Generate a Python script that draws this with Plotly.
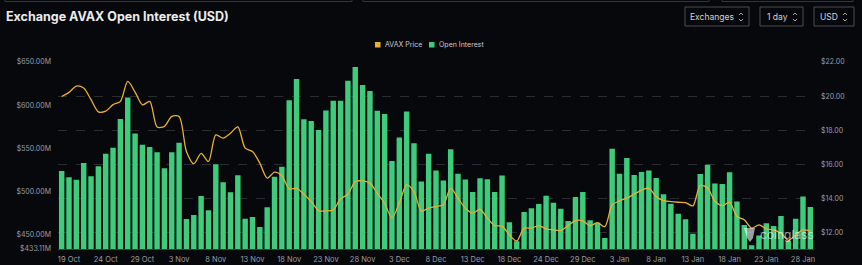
import plotly.graph_objects as go

# ---------------- data ----------------
dates = ([f"{d} Oct" for d in range(18, 32)] + [f"{d} Nov" for d in range(1, 31)] +
         [f"{d} Dec" for d in range(1, 32) if d != 21] + [f"{d} Jan" for d in range(1, 30)])

open_interest_m = [
    523.7, 516.4, 513.3, 533.0, 517.6, 529.2, 543.5, 550.4, 583.8, 608.9,
    567.1, 553.9, 551.3, 545.4, 526.9, 545.4, 556.3, 468.0, 472.6, 494.7,
    478.1, 531.5, 510.6, 499.0, 518.7, 468.3, 470.3, 458.7, 481.6, 516.8,
    528.4, 605.6, 630.3, 583.5, 581.6, 571.0, 593.8, 605.0, 605.0, 628.3,
    644.2, 623.3, 616.4, 593.4, 589.6, 535.1, 562.4, 592.6, 555.7, 511.3,
    543.7, 524.1, 512.5, 548.9, 520.5, 513.6, 499.3, 515.2, 514.1, 499.1,
    518.5, 464.2, 442.2, 475.9, 480.5, 485.4, 495.0, 486.8, 479.9, 465.6,
    493.5, 499.1, 466.6, 463.7, 445.9, 549.3, 520.5, 538.8, 518.8, 522.3,
    524.3, 515.4, 496.7, 485.6, 474.1, 467.7, 450.9, 520.0, 530.7, 509.2,
    508.4, 522.0, 488.3, 461.0, 437.4, 448.8, 463.1, 459.8, 471.4, 442.8,
    468.2, 494.1, 481.9,
]

avax_price = [
    19.98, 20.22, 20.59, 20.47, 19.79, 19.08, 19.12, 19.50, 19.69, 20.86,
    20.24, 19.49, 19.69, 18.19, 18.23, 18.81, 18.81, 16.75, 16.03, 16.64,
    16.17, 17.73, 17.54, 17.83, 18.20, 16.95, 16.75, 16.07, 15.19, 15.54,
    15.33, 14.56, 14.61, 14.25, 13.82, 13.29, 13.27, 13.33, 13.98, 14.25,
    14.99, 15.03, 14.90, 14.31, 13.72, 12.85, 13.73, 14.80, 14.41, 13.27,
    13.43, 13.53, 13.63, 14.61, 14.02, 13.43, 13.14, 13.37, 12.85, 12.41,
    12.38, 11.87, 11.51, 12.26, 12.26, 12.41, 12.22, 12.16, 12.12, 12.41,
    12.70, 12.69, 12.41, 12.59, 12.35, 13.62, 13.86, 14.02, 14.25, 14.49,
    14.61, 14.11, 13.88, 13.82, 13.78, 13.76, 13.57, 14.76, 14.61, 13.84,
    13.58, 13.78, 12.94, 12.75, 12.26, 12.45, 12.22, 12.16, 11.96, 11.55,
    11.87, 12.16, 12.10,
]

x_tick_labels = ["19 Oct", "24 Oct", "29 Oct", "3 Nov", "8 Nov", "13 Nov", "18 Nov",
                 "23 Nov", "28 Nov", "3 Dec", "8 Dec", "13 Dec", "18 Dec", "24 Dec",
                 "29 Dec", "3 Jan", "8 Jan", "13 Jan", "18 Jan", "23 Jan", "28 Jan"]
oi_tick_vals = [433.11, 450, 500, 550, 600, 650]
oi_tick_text = ["$433.11M", "$450.00M", "$500.00M", "$550.00M", "$600.00M", "$650.00M"]
price_tick_vals = [12, 14, 16, 18, 20, 22]
price_tick_text = ["$12.00", "$14.00", "$16.00", "$18.00", "$20.00", "$22.00"]

# ---------------- style ----------------
BG = "#07080c"
GREEN = "#3ecb7c"
AMBER = "#e9b033"
TICK = "#9a9da4"
FONT = "Inter"

fig = go.Figure()
fig.add_trace(go.Bar(x=dates, y=open_interest_m, marker=dict(color=GREEN, line=dict(width=0)),
                     width=0.74, name="Open Interest", yaxis="y", showlegend=False))
fig.add_trace(go.Scatter(x=dates, y=avax_price, mode="lines", name="AVAX Price",
                         line=dict(color=AMBER, width=1.3, shape="spline", smoothing=0.8),
                         yaxis="y2", showlegend=False))

fig.update_layout(
    width=862, height=265,
    margin=dict(l=58, r=48, t=62, b=16, autoexpand=False),
    paper_bgcolor=BG, plot_bgcolor=BG,
    font=dict(family=FONT, color=TICK, size=7),
    xaxis=dict(type="category", range=[-0.5, len(dates) - 0.5], tickmode="array",
               tickvals=x_tick_labels, ticktext=x_tick_labels, showgrid=False,
               showline=True, linecolor="#3a3c42", linewidth=1, ticks="",
               tickfont=dict(size=7.5, color=TICK, family=FONT), ticklabelstandoff=3,
               zeroline=False, automargin=False),
    yaxis=dict(range=[433.11, 650], tickmode="array", tickvals=oi_tick_vals,
               ticktext=oi_tick_text, showgrid=False, zeroline=False, ticks="",
               tickfont=dict(size=7, color=TICK, family=FONT), ticklabelstandoff=6,
               showline=False, automargin=False),
    yaxis2=dict(range=[11.04, 22], overlaying="y", side="right", tickmode="array",
                tickvals=price_tick_vals, ticktext=price_tick_text, showgrid=True,
                gridcolor="#2a2c32", griddash="dash", gridwidth=1, zeroline=False,
                ticks="", tickfont=dict(size=7, color=TICK, family=FONT),
                ticklabelstandoff=6, showline=False, automargin=False),
)

# helpers for pixel placement in paper coords
PL, PT, PW, PH = 58, 62, 756, 187


def px(x):
    return (x - PL) / PW


def py(y):
    return 1 - (y - PT) / PH


# title
fig.add_annotation(text="<b>Exchange AVAX Open Interest (USD)</b>", xref="paper", yref="paper",
                   x=px(4), y=py(16.5), xanchor="left", yanchor="middle",
                   showarrow=False, font=dict(family=FONT, size=12.5, color="#ececec"))

# faint cut-off boxes at very top
for x0, x1 in [(5, 352), (363, 709), (722, 853)]:
    fig.add_shape(type="rect", xref="paper", yref="paper", x0=px(x0), x1=px(x1),
                  y0=py(1.5), y1=py(-10), line=dict(color="#33353b", width=1),
                  fillcolor="rgba(0,0,0,0)", layer="above")

# control buttons
for label, x0, x1, tx, cx in [("Exchanges", 685, 749, 712, 741),
                              ("1 day", 760, 803, 777, 795),
                              ("USD", 814, 854, 829, 845)]:
    fig.add_shape(type="rect", xref="paper", yref="paper", x0=px(x0), x1=px(x1),
                  y0=py(26), y1=py(7), line=dict(color="#4a4c53", width=1),
                  fillcolor="rgba(0,0,0,0)")
    fig.add_annotation(text=label, xref="paper", yref="paper", x=px(tx), y=py(17),
                       xanchor="center", yanchor="middle", showarrow=False,
                       font=dict(family=FONT, size=8.5, color="#d0d2d6"))
    # up/down chevrons
    fig.add_shape(type="path", xref="paper", yref="paper",
                  path=f"M {px(cx - 2)} {py(15)} L {px(cx)} {py(13)} L {px(cx + 2)} {py(15)}",
                  line=dict(color="#b0b2b8", width=0.9))
    fig.add_shape(type="path", xref="paper", yref="paper",
                  path=f"M {px(cx - 2)} {py(19)} L {px(cx)} {py(21)} L {px(cx + 2)} {py(19)}",
                  line=dict(color="#b0b2b8", width=0.9))

# legend (manual)
for color, label, sx in [(AMBER, "AVAX Price", 375), (GREEN, "Open Interest", 429)]:
    fig.add_shape(type="rect", xref="paper", yref="paper", x0=px(sx), x1=px(sx + 5.5),
                  y0=py(47.5), y1=py(42), line=dict(width=0), fillcolor=color)
    fig.add_annotation(text=label, xref="paper", yref="paper", x=px(sx + 7.5), y=py(44.7),
                       xanchor="left", yanchor="middle", showarrow=False,
                       font=dict(family=FONT, size=7, color="#c8cad0"))

# watermark
fig.add_annotation(text="coinglass", xref="paper", yref="paper", x=px(758), y=py(234),
                   xanchor="left", yanchor="middle", showarrow=False,
                   font=dict(family=FONT, size=12, color="rgba(255,255,255,0.6)"))
fig.add_shape(type="path", xref="paper", yref="paper",
              path=f"M {px(744)} {py(228)} L {px(755)} {py(228)} L {px(753)} {py(238)} "
                   f"L {px(750)} {py(242)} L {px(747)} {py(238)} Z",
              line=dict(width=0), fillcolor="rgba(255,255,255,0.6)")

fig.write_html("out.html")
